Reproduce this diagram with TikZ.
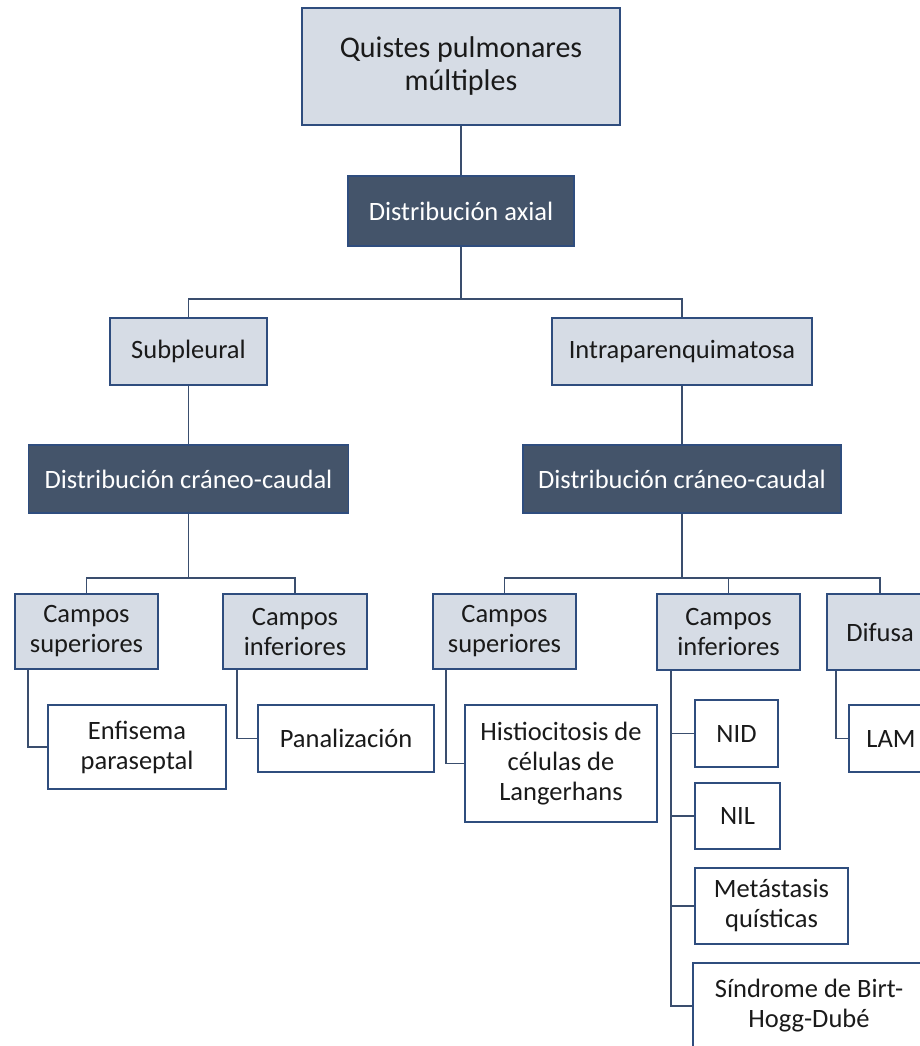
\documentclass[tikz,border=0pt]{standalone}
\usepackage{fontspec}
\setmainfont{Carlito}
\usetikzlibrary{calc}
\definecolor{lightfill}{HTML}{D6DCE5}
\definecolor{darkfill}{HTML}{44546A}
\definecolor{bordercol}{HTML}{2F4D7E}
\definecolor{linecol}{HTML}{3A4E6E}
\definecolor{txt}{HTML}{1A1A1A}
\tikzset{
  box/.style={draw=bordercol, line width=1.6pt, fill=lightfill, align=center, inner sep=0pt, text=txt,
    font=\fontsize{26.5}{30}\selectfont},
  darkbox/.style={box, fill=darkfill, text=white},
  leafbox/.style={box, fill=white},
  conn/.style={draw=linecol, line width=1.6pt},
}
\begin{document}
\begin{tikzpicture}[x=1pt,y=-1pt]
\useasboundingbox (0,0) rectangle (919,1046);
% level 0
\node[box, minimum width=318pt, minimum height=117pt, font=\fontsize{30}{33}\selectfont] (top) at (461,66.5) {Quistes pulmonares\\múltiples};
\node[darkbox, minimum width=226pt, minimum height=70pt] (axial) at (461,211) {Distribución axial};
% level 1
\node[box, minimum width=157pt, minimum height=67pt] (sub) at (188.5,351.5) {Subpleural};
\node[box, minimum width=260pt, minimum height=67pt] (intra) at (682,351.5) {Intraparenquimatosa};
\node[darkbox, minimum width=320pt, minimum height=68pt] (dccL) at (188.5,479) {Distribución cráneo-caudal};
\node[darkbox, minimum width=318pt, minimum height=68pt] (dccR) at (682,479) {Distribución cráneo-caudal};
% level 2 left
\node[box, minimum width=143pt, minimum height=75pt] (csL) at (86.5,631.5) {Campos\\superiores};
\node[box, minimum width=144pt, minimum height=75pt] (ciL) at (295,631.5) {Campos\\inferiores};
\node[leafbox, minimum width=178pt, minimum height=84pt] (enf) at (137,747) {Enfisema\\paraseptal};
\node[leafbox, minimum width=176pt, minimum height=67pt] (pan) at (346,738.5) {Panalización};
% level 2 right
\node[box, minimum width=143pt, minimum height=75pt] (csR) at (504.5,631.5) {Campos\\superiores};
\node[box, minimum width=143pt, minimum height=76pt] (ciR) at (728.5,632) {Campos\\inferiores};
\node[box, minimum width=106pt, minimum height=76pt] (dif) at (880,632) {Difusa};
\node[leafbox, minimum width=192pt, minimum height=117pt] (his) at (561,763.5) {Histiocitosis de\\células de\\Langerhans};
\node[leafbox, minimum width=83pt, minimum height=67pt] (nid) at (736.5,733.5) {NID};
\node[leafbox, minimum width=85pt, minimum height=66pt] (nil) at (737.5,816) {NIL};
\node[leafbox, minimum width=153pt, minimum height=76pt] (met) at (771.5,906) {Metástasis\\quísticas};
\node[leafbox, minimum width=232pt, minimum height=86pt] (sind) at (809,1006) {Síndrome de Birt-\\Hogg-Dubé};
\node[leafbox, minimum width=84pt, minimum height=67pt] (lam) at (891,738.5) {LAM};
% junctions
\coordinate (j1) at (461,299);
\coordinate (j2) at (188.5,578);
\coordinate (j3) at (682,578);
% connectors
\draw[conn] (top.south) -- (axial.north);
\draw[conn] (axial.south) -- (j1);
\draw[conn] (sub.north) |- (j1) -| (intra.north);
\draw[conn] (sub.south) -- (dccL.north);
\draw[conn] (intra.south) -- (dccR.north);
\draw[conn] (dccL.south) -- (j2);
\draw[conn] (csL.north) |- (j2) -| (ciL.north);
\draw[conn] (dccR.south) -- (j3);
\draw[conn] (csR.north) |- (j3) -| (dif.north);
\draw[conn] (j3) -| (ciR.north);
\draw[conn] ($(csL.south west)+(14,0)$) |- (enf.west);
\draw[conn] ($(ciL.south west)+(15,0)$) |- (pan.west);
\draw[conn] ($(csR.south west)+(14,0)$) |- (his.west);
\draw[conn] ($(dif.south west)+(10,0)$) |- (lam.west);
\coordinate (ci) at ($(ciR.south west)+(15,0)$);
\draw[conn] (ci) |- (sind.west);
\draw[conn] (ci) |- (nid.west);
\draw[conn] (ci) |- (nil.west);
\draw[conn] (ci) |- (met.west);
\end{tikzpicture}
\end{document}
